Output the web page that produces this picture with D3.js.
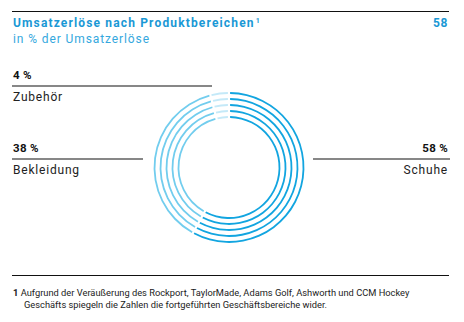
<!DOCTYPE html>
<html><head><meta charset="utf-8">
<script src="https://cdn.jsdelivr.net/npm/d3@7"></script>
<style>
html,body{margin:0;padding:0;background:#fff;}
svg{display:block;font-family:Roboto,"DejaVu Sans",sans-serif;}
</style></head>
<body>
<svg id="c" width="464" height="322"></svg>
<script>
const title = "Umsatzerlöse nach Produktbereichen";
const titleNote = "1";
const pageNo = "58";
const subtitle = "in % der Umsatzerlöse";
const categories = ["Schuhe", "Bekleidung", "Zubehör"];
const values = [58, 38, 4];
const colors = ["#12a5e0", "#72cdee", "#c4e9f8"];
const footnote = ["Aufgrund der Veräußerung des Rockport, TaylorMade, Adams Golf, Ashworth und CCM Hockey",
                  "Geschäfts spiegeln die Zahlen die fortgeführten Geschäftsbereiche wider."];
const ringCount = 5;

const svg = d3.select("#c");

// header
svg.append("line").attr("x1",12).attr("x2",449).attr("y1",11.5).attr("y2",11.5)
  .attr("stroke","#111").attr("stroke-width",1.2);
const t = svg.append("text").attr("x",13).attr("y",27).attr("fill","#1a98d5")
  .attr("font-size",12).attr("font-weight","bold").attr("letter-spacing",1.15);
t.append("tspan").text(title);
t.append("tspan").attr("dx",1).attr("dy",-4).attr("font-size",7).attr("letter-spacing",0).text(titleNote);
svg.append("text").attr("x",448).attr("y",27).attr("text-anchor","end").attr("fill","#1a98d5")
  .attr("font-size",12).attr("font-weight","bold").attr("letter-spacing",0.6).text(pageNo);
svg.append("text").attr("x",13).attr("y",43).attr("fill","#35a8de")
  .attr("font-size",12).attr("letter-spacing",0.9).text(subtitle);

// rings
const cx = 229, cy = 167.5;
const rScale = d3.scaleLinear().domain([0, ringCount-1]).range([74.5, 50.5]);
const pie = d3.pie().sort(null).value(d => d)(values);
const g = svg.append("g").attr("transform",`translate(${cx},${cy})`);
d3.range(ringCount).forEach(i => {
  const r = rScale(i);
  const arc = d3.arc().innerRadius(r-0.9).outerRadius(r+0.9).padAngle(0.022).padRadius(100);
  g.selectAll(null).data(pie).enter().append("path")
    .attr("d", arc).attr("fill", (d,j) => colors[j]);
});

// labels
const fmt = v => v + " %";
const labelSpec = [
  {i:2, x1:12, x2:212, y:86, anchor:"start", tx:13},
  {i:1, x1:12, x2:143, y:159, anchor:"start", tx:13},
  {i:0, x1:313, x2:450, y:159, anchor:"end", tx:448}
];
labelSpec.forEach(s => {
  svg.append("line").attr("x1",s.x1).attr("x2",s.x2).attr("y1",s.y).attr("y2",s.y)
    .attr("stroke","#111").attr("stroke-width",1.1);
  svg.append("text").attr("x",s.tx).attr("y",s.y-7).attr("text-anchor",s.anchor)
    .attr("font-size",11.5).attr("font-weight","bold").attr("fill","#111").attr("letter-spacing",0.3).text(fmt(values[s.i]));
  svg.append("text").attr("x",s.tx).attr("y",s.y+15).attr("text-anchor",s.anchor)
    .attr("font-size",12).attr("fill","#222").attr("letter-spacing",0.8).text(categories[s.i]);
});

// footnote
svg.append("line").attr("x1",12).attr("x2",449).attr("y1",275.5).attr("y2",275.5)
  .attr("stroke","#111").attr("stroke-width",1.1);
const f = svg.append("text").attr("x",13).attr("y",295.5).attr("font-size",9.3).attr("fill","#222");
f.append("tspan").attr("font-weight","bold").text("1 ");
f.append("tspan").text(footnote[0]);
svg.append("text").attr("x",24).attr("y",308).attr("font-size",9.3).attr("fill","#222").text(footnote[1]);
</script>
</body></html>
